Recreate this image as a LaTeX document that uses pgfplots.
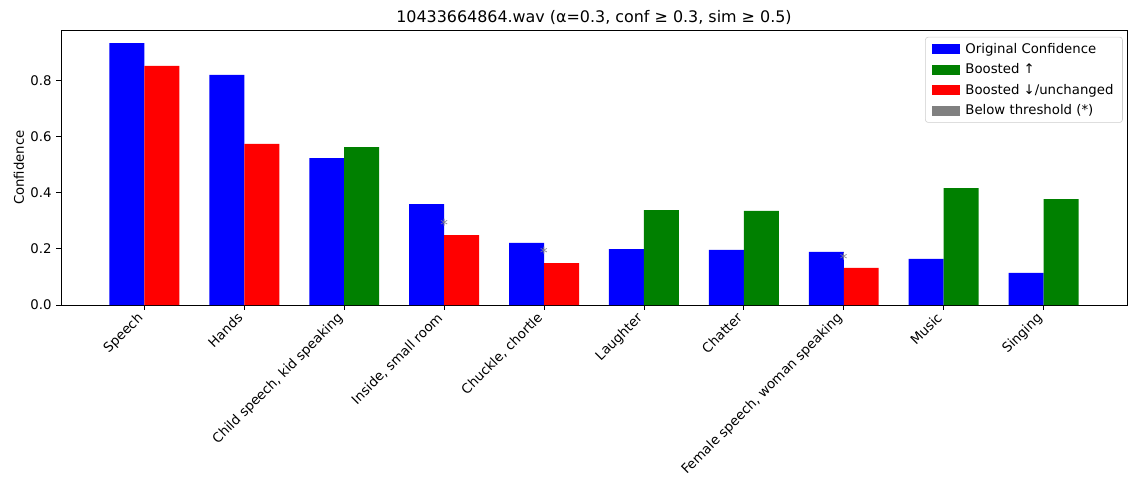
\documentclass[border=0pt]{standalone}
\usepackage{fontspec}
\setmainfont{DejaVu Sans}
\usepackage{pgfplots}
\pgfplotsset{compat=1.18}
\definecolor{mplgreen}{rgb}{0,0.5019,0}
\definecolor{legframe}{rgb}{0.8,0.8,0.8}
\definecolor{stargray}{rgb}{0.5,0.5,0.55}
\begin{document}
\fontsize{9.6}{11.5}\selectfont
\begin{tikzpicture}
\begin{axis}[
  scale only axis, width=10.66in, height=2.75in,
  xmin=-0.835, xmax=9.835, ymin=0, ymax=0.9786,
  ytick={0,0.2,0.4,0.6,0.8},
  /pgf/number format/assume math mode=true,
  ticklabel style={font=\fontsize{9.6}{11.5}\selectfont},
  yticklabel style={/pgf/number format/fixed, /pgf/number format/precision=1, /pgf/number format/fixed zerofill},
  xtick={0,...,9},
  xticklabels={Speech, Hands, {Child speech, kid speaking}, {Inside, small room}, {Chuckle, chortle}, Laughter, Chatter, {Female speech, woman speaking}, Music, Singing},
  xticklabel style={xshift=-0.08in, yshift=-0.015in, rotate=45, anchor=north east, inner sep=0pt},
  tick align=outside, xtick pos=bottom, ytick pos=left,
  major tick length=3.5pt,
  tick style={black, line width=0.6pt},
  axis line style={line width=0.6pt},
  ylabel=Confidence,
  ylabel style={yshift=-2pt, font=\fontsize{9.6}{11.5}\selectfont},
  title={10433664864.wav (α=0.3, conf ≥ 0.3, sim ≥ 0.5)},
  title style={at={(0.5,1)}, anchor=base, yshift=-0.25pt, font=\fontsize{11.5}{14}\selectfont},
  bar width=0.35,
  legend cell align=left,
  legend style={at={(0.996,0.975)}, anchor=north east, draw=legframe, rounded corners=2pt, font=\fontsize{9.6}{11.5}\selectfont, row sep=2.1pt, inner xsep=4.5pt, inner ysep=2.2pt},
  legend image code/.code={\fill[#1, draw=none, sharp corners] (0in,-0.05in) rectangle (0.28in,0.05in); \path (0.31in,0);},
]
\addplot[ybar, bar shift=-0.175, fill=blue, draw=none] coordinates {
  (0,0.932) (1,0.819) (2,0.523) (3,0.359) (4,0.221) (5,0.199) (6,0.196) (7,0.189) (8,0.164) (9,0.114)};
\addlegendentry{Original Confidence}
\addplot[ybar, bar shift=0.175, fill=mplgreen, draw=none] coordinates {
  (2,0.562) (5,0.338) (6,0.335) (8,0.416) (9,0.377)};
\addlegendentry{Boosted ↑}
\addplot[ybar, bar shift=0.175, fill=red, draw=none] coordinates {
  (0,0.851) (1,0.573) (3,0.249) (4,0.149) (7,0.132)};
\addlegendentry{Boosted ↓/unchanged}
\addlegendimage{fill=gray, draw=none}
\addlegendentry{Below threshold (*)}
\addplot[forget plot, draw=none, mark=none, nodes near coords={*},
  every node near coord/.style={anchor=center, text=stargray, font=\fontsize{11}{13}\selectfont, yshift=-3pt}]
  coordinates {(3,0.30) (4,0.20) (7,0.18)};
\coordinate (sw) at (rel axis cs:0,0);
\coordinate (ne) at (rel axis cs:1,1);
\end{axis}
\pgfresetboundingbox
\path[use as bounding box] ([xshift=-0.61in,yshift=-1.72in]sw) rectangle ([xshift=0.01in,yshift=0.30in]ne);
\end{tikzpicture}
\end{document}
